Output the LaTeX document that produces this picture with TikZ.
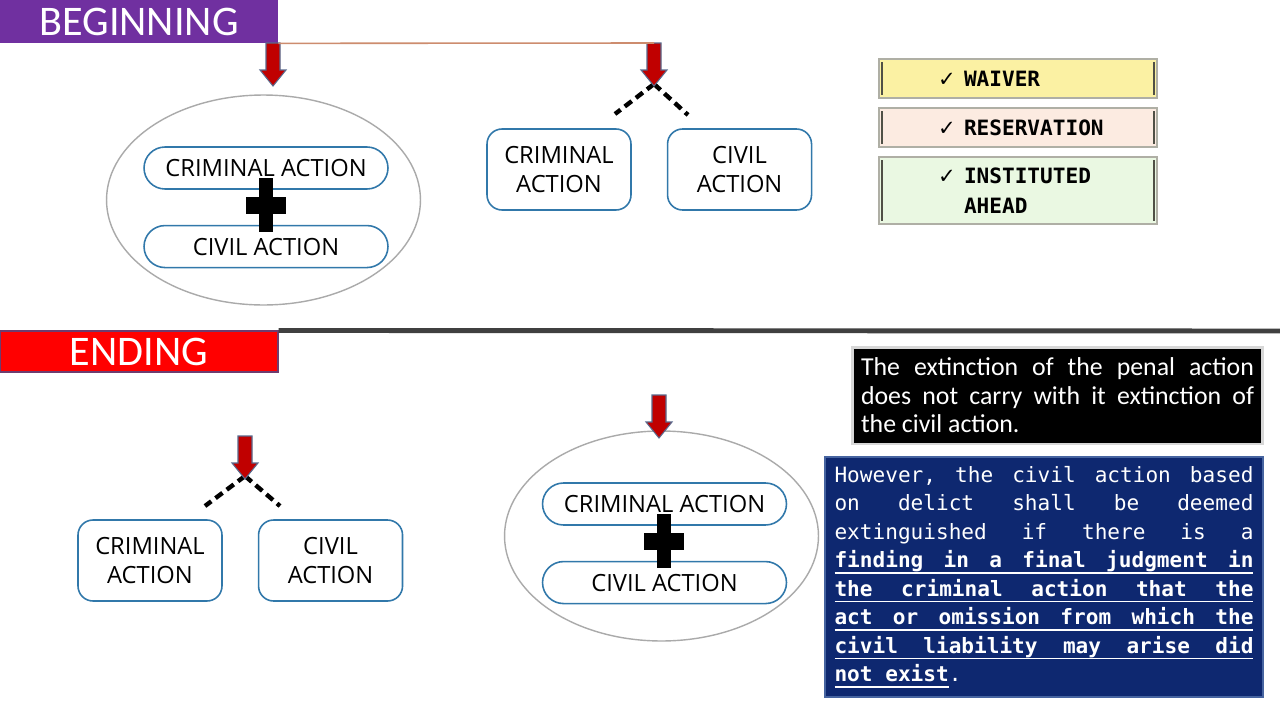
\documentclass[tikz,border=0pt]{standalone}
\usepackage{fontspec}
\setmainfont{Carlito}
\newfontfamily\labelfont{Open Sans}
\newfontfamily\monofont{DejaVu Sans Mono}
\newfontfamily\symbolfont{DejaVu Sans}
\usetikzlibrary{shapes.geometric,positioning}

% lines of the justified mono box
\newcommand{\ulword}[1]{\setbox0\hbox{#1}\rlap{\rule[-3.5pt]{\wd0}{1pt}}\box0}
\newcommand{\jline}[1]{\noindent\hbox to\linewidth{#1}\par}
\newcommand{\ujline}[1]{\noindent\ulword{\hbox to\linewidth{#1}}\par}
\newcommand{\tick}{\makebox[0.52cm][l]{\symbolfont\mdseries ✓}}

\tikzset{
  downarrow/.pic={
    \filldraw[fill=arrowred, draw=arrowedge, line width=0.6pt]
      (-7,0) -- (7,0) -- (7,27) -- (13,27) -- (0,43) -- (-13,27) -- (-7,27) -- cycle;
    \coordinate (-top) at (0,0);
    \coordinate (-tip) at (0,43);
  },
  plusmark/.pic={
    \fill (-7,-27) rectangle (7,27);
    \fill (-20,-8) rectangle (20,9);
  }
}

\begin{document}
\begin{tikzpicture}[x=0.02cm, y=-0.02cm,
    banner/.style={minimum width=5.56cm, inner sep=0pt, text=white, font=\fontsize{24}{28}\selectfont},
    pill/.style={draw=boxblue, line width=0.9pt, fill=white, rounded corners=0.42cm, minimum width=4.88cm, minimum height=0.84cm, inner sep=0pt, font=\labelfont\fontsize{13.5}{16}\selectfont},
    actionbox/.style={draw=boxblue, line width=0.9pt, fill=white, rounded corners=0.3cm, minimum width=2.88cm, minimum height=1.62cm, inner sep=0pt, align=center, font=\labelfont\fontsize{13.5}{16}\selectfont},
    ring/.style={ellipse, draw=ringgray, line width=0.8pt, minimum width=6.28cm, minimum height=4.2cm},
    fork/.style={line width=2.5pt, dash pattern=on 5pt off 3pt},
    checkbox/.style={draw=framegray, line width=1pt, minimum width=5.56cm, text width=5.56cm, inner xsep=0pt, align=left, font=\monofont\bfseries\fontsize{12}{17}\selectfont},
    innerline/.style={draw=darkframe, line width=1.2pt},
  ]
    % colores
    \definecolor{bannerpurple}{RGB}{112,48,160}
    \definecolor{bannerred}{RGB}{255,0,0}
    \definecolor{arrowred}{RGB}{192,0,0}
    \definecolor{arrowedge}{RGB}{90,105,140}
    \definecolor{boxblue}{RGB}{49,120,170}
    \definecolor{ringgray}{RGB}{170,170,170}
    \definecolor{feedline}{RGB}{205,140,110}
    \definecolor{sepgray}{RGB}{64,64,64}
    \definecolor{framegray}{RGB}{175,175,165}
    \definecolor{darkframe}{RGB}{80,80,70}
    \definecolor{waiverfill}{RGB}{251,241,163}
    \definecolor{reservfill}{RGB}{252,235,225}
    \definecolor{aheadfill}{RGB}{234,248,226}
    \definecolor{navy}{RGB}{14,40,112}
    \definecolor{navyedge}{RGB}{70,100,160}
    \definecolor{glowgray}{RGB}{215,215,215}
    \definecolor{endingedge}{RGB}{110,60,110}

    \fill[white] (0,0) rectangle (1280,720);
    \useasboundingbox (0,0) rectangle (1280,720);

    % ---- beginning ----
    \node[banner, fill=bannerpurple, minimum height=0.86cm] (begin) at (139,21.5) {BEGINNING};

    % juntas
    \node[ring] (ringA) at (263.5,200) {};
    \node[pill] (crimA) at (266,168) {CRIMINAL ACTION};
    \node[pill, below=0.7cm of crimA] (civA) {CIVIL ACTION};
    \pic at (266,205) {plusmark};

    % separadas
    \node[actionbox] (crimB) at (559,169.5) {CRIMINAL\\ACTION};
    \node[actionbox, right=0.7cm of crimB] (civB) {CIVIL\\ACTION};
    \coordinate (forkB) at (654,84);
    \coordinate (forkBl) at (615,114);
    \coordinate (forkBr) at (688,115);
    \draw[fork] (forkB) -- (forkBl);
    \draw[fork] (forkB) -- (forkBr);

    \pic (arrA) at (273,43) {downarrow};
    \pic (arrB) at (654,43) {downarrow};
    \draw[feedline, line width=0.9pt] (begin.south east) -- (arrB-top);

    % lista
    \node[checkbox, fill=waiverfill, minimum height=0.78cm] (waiver) at (1018,78.5)
      {\hspace*{1.18cm}\tick WAIVER};
    \node[checkbox, fill=reservfill, minimum height=0.78cm] (reserv) at (1018,127.5)
      {\hspace*{1.18cm}\tick RESERVATION};
    \node[checkbox, fill=aheadfill, minimum height=1.34cm] (ahead) at (1018,190.5)
      {\hspace*{1.18cm}\tick INSTITUTED\\\hspace*{1.7cm}AHEAD};
    \foreach \b in {waiver,reserv,ahead}{
      \draw[innerline] ([shift={(4,4)}]\b.north west) -- ([shift={(4,-4)}]\b.south west);
      \draw[innerline] ([shift={(-4,4)}]\b.north east) -- ([shift={(-4,-4)}]\b.south east);
    }

    % ---- ending ----
    \coordinate (sepR) at (1280,331);
    \node[banner, fill=bannerred, draw=endingedge, line width=0.6pt, minimum height=0.82cm] (ending) at (139,351.5) {ENDING};
    \draw[sepgray, line width=2.8pt] (ending.north east) -- (sepR);

    % separadas
    \node[actionbox] (crimC) at (150,560.5) {CRIMINAL\\ACTION};
    \node[actionbox, right=0.7cm of crimC] (civC) {CIVIL\\ACTION};
    \coordinate (forkC) at (245,476);
    \coordinate (forkCl) at (205,506);
    \coordinate (forkCr) at (280,506);
    \draw[fork] (forkC) -- (forkCl);
    \draw[fork] (forkC) -- (forkCr);
    \pic (arrC) at (245,436) {downarrow};

    % juntas
    \node[ring] (ringD) at (661.5,536) {};
    \node[pill] (crimD) at (664.5,504) {CRIMINAL ACTION};
    \node[pill, below=0.7cm of crimD] (civD) {CIVIL ACTION};
    \pic at (664,541) {plusmark};
    \pic (arrD) at (659,395) {downarrow};

    % notas
    \node[fill=black, draw=glowgray, line width=1.7pt, text=white, text width=7.86cm, inner xsep=0.18cm,
      minimum height=1.94cm, align=justify, font=\fontsize{14.7}{16.2}\selectfont] (penal) at (1057.5,395.5)
      {The extinction of the penal action\linebreak does not carry with it extinction of\linebreak the civil action.};

    \node[fill=navy, draw=navyedge, line width=1pt, text=white, text width=8.38cm, inner xsep=0.19cm,
      minimum height=4.8cm, font=\monofont\fontsize{12}{16.2}\selectfont] (delict) at (1044,577) {%
      \jline{However,\hfill the\hfill civil\hfill action\hfill based}
      \jline{on\hfill delict\hfill shall\hfill be\hfill deemed}
      \jline{extinguished\hfill if\hfill there\hfill is\hfill a}
      \ujline{\bfseries finding\hfill in\hfill a\hfill final\hfill judgment\hfill in}
      \ujline{\bfseries the\hfill criminal\hfill action\hfill that\hfill the}
      \ujline{\bfseries act\hfill or\hfill omission\hfill from\hfill which\hfill the}
      \ujline{\bfseries civil\hfill liability\hfill may\hfill arise\hfill did}
      \noindent\ulword{\bfseries not\phantom{x}exist}.\par};
\end{tikzpicture}
\end{document}
